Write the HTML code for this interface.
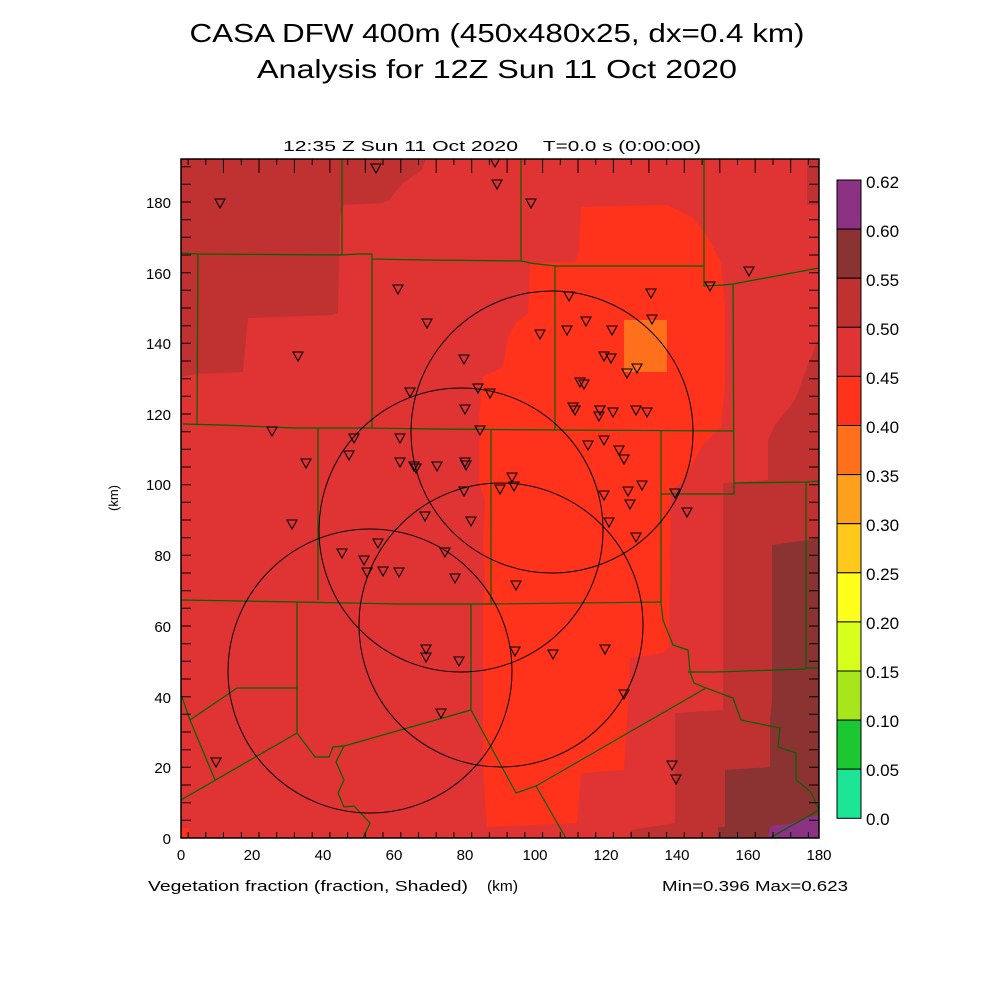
<!DOCTYPE html>
<html><head><meta charset="utf-8"><style>
html,body{margin:0;padding:0;background:#fff;}
svg{display:block;}
text{font-family:"Liberation Sans",sans-serif;fill:#000;}
</style></head><body>
<svg width="1000" height="1000" viewBox="0 0 1000 1000" xmlns="http://www.w3.org/2000/svg">
<rect width="1000" height="1000" fill="#fff"/>
<text x="497" y="42" font-size="26" text-anchor="middle" textLength="615" lengthAdjust="spacingAndGlyphs" fill="#111">CASA DFW 400m (450x480x25, dx=0.4 km)</text>
<text x="497" y="78" font-size="26" text-anchor="middle" textLength="480" lengthAdjust="spacingAndGlyphs" fill="#111">Analysis for 12Z Sun 11 Oct 2020</text>
<text x="283" y="151" font-size="15" textLength="235" lengthAdjust="spacingAndGlyphs">12:35 Z Sun 11 Oct 2020</text>
<text x="543" y="151" font-size="15" textLength="158" lengthAdjust="spacingAndGlyphs">T=0.0 s (0:00:00)</text>

<defs><clipPath id="pc"><rect x="181" y="159" width="638" height="679"/></clipPath></defs>
<g clip-path="url(#pc)">
<rect x="181" y="159" width="638" height="679" fill="#e03434"/>
<polygon fill="#c03232" points="181,159 426,159 422,170 403,183 389,200 383,203 344,205 340,217 338,313 332,315 248,318 243,372 196,374 181,377"/>
<polygon fill="#c03232" points="807,159 819,159 819,205 807,205"/>
<polygon fill="#ff321c" points="581,207 667,205 692,217 708,237 721,263 725,307 725,383 721,427 704,443 684,480 671,490 669,647 663,653 630,658 628,703 624,770 581,773 577,823 487,827 483,770 483,607 485,580 483,545 485,500 479,483 479,417 483,377 503,367 508,337 516,323 528,313 530,263 575,262 579,250"/>
<polygon fill="#ff321c" points="181,828 189,828 189,838 181,838"/>
<rect x="624" y="320" width="43" height="52" fill="#ff701c"/>
<polygon fill="#c03232" points="819,337 806,370 795,400 775,425 768,440 768,480 723,483 723,710 675,713 675,823 630,830 630,838 819,838"/>
<polygon fill="#8b3232" points="772,545 807,540 819,537 819,838 718,838 718,827 725,827 725,770 770,767 770,720 772,700"/>
<polygon fill="#8c3282" points="768,838 770,826 790,824 805,818 819,815 819,838"/>

<g fill="none" stroke="#006400" stroke-width="1.2">
<polyline points="342,159 342,255"/>
<polyline points="181,253 198,254 342,255 356,254 372,254 372,259 426,260 522,261 530,263 555,266 704,266"/>
<polyline points="521,159 521,261"/>
<polyline points="704,159 704,286 723,285 733,284 819,268"/>
<polyline points="733,284 734,494 661,494"/>
<polyline points="555,266 555,430"/>
<polyline points="183,424 221,425 246,426 295,428 368,428 434,429 555,430 734,431"/>
<polyline points="372,259 372,428"/>
<polyline points="198,254 197,424"/>
<polyline points="318,428 318,600"/>
<polyline points="491,430 491,604"/>
<polyline points="661,430 661,603"/>
<polyline points="734,483 807,482 819,481"/>
<polyline points="806,482 806,668 819,668"/>
<polyline points="688,672 716,672 806,669"/>
<polyline points="181,600 241,601 297,602 397,604 491,604 661,602"/>
<polyline points="297,602 297,733"/>
<polyline points="237,688 297,688"/>
<polyline points="182,697 190,720 215,780"/>
<polyline points="190,720 237,688"/>
<polyline points="181,800 297,733 315,757 329,757 333,747 344,746 471,710"/>
<polyline points="471,604 471,710 516,793 536,786 706,688"/>
<polyline points="536,786 567,840"/>
<polyline points="661,603 663,620 673,645 688,650 690,672 694,683 706,688 733,698 741,720 765,725 780,728 778,747 796,753 796,780 811,792 819,810"/>
<polyline points="770,838 819,810"/>
<polyline points="344,746 336,762 344,780 338,793 344,807 354,806 370,823 362,840"/>
</g>

<g fill="none" stroke="#000" stroke-width="1">
<circle cx="552" cy="432" r="141"/>
<circle cx="461" cy="530" r="142"/>
<circle cx="501" cy="625" r="142"/>
<circle cx="370" cy="671" r="142"/>
</g>

<g fill="none" stroke="#000" stroke-width="1.1">
<path d="M215,199h10l-5,9z M371,164h10l-5,9z M490,158h10l-5,9z M492,180h10l-5,9z M526,199h10l-5,9z M744,267h10l-5,9z M705,282h10l-5,9z M393,285h10l-5,9z M564,292h10l-5,9z M646,289h10l-5,9z M581,317h10l-5,9z M422,319h10l-5,9z M647,315h10l-5,9z M562,326h10l-5,9z M535,330h10l-5,9z M607,326h10l-5,9z M293,352h10l-5,9z M599,352h10l-5,9z M606,354h10l-5,9z M459,355h10l-5,9z M632,364h10l-5,9z M622,369h10l-5,9z M405,388h10l-5,9z M575,378h10l-5,9z M579,380h10l-5,9z M473,384h10l-5,9z M485,389h10l-5,9z M568,403h10l-5,9z M570,406h10l-5,9z M608,408h10l-5,9z M595,406h10l-5,9z M594,412h10l-5,9z M460,405h10l-5,9z M642,408h10l-5,9z M631,406h10l-5,9z M267,427h10l-5,9z M475,426h10l-5,9z M349,434h10l-5,9z M395,434h10l-5,9z M301,459h10l-5,9z M344,451h10l-5,9z M409,462h10l-5,9z M583,441h10l-5,9z M599,436h10l-5,9z M614,446h10l-5,9z M395,458h10l-5,9z M411,464h10l-5,9z M432,462h10l-5,9z M460,458h10l-5,9z M461,461h10l-5,9z M619,455h10l-5,9z M507,473h10l-5,9z M623,487h10l-5,9z M637,481h10l-5,9z M495,485h10l-5,9z M509,482h10l-5,9z M459,487h10l-5,9z M599,491h10l-5,9z M670,489h10l-5,9z M625,500h10l-5,9z M682,508h10l-5,9z M420,512h10l-5,9z M287,520h10l-5,9z M466,517h10l-5,9z M604,518h10l-5,9z M631,533h10l-5,9z M337,549h10l-5,9z M373,539h10l-5,9z M359,556h10l-5,9z M362,568h10l-5,9z M378,567h10l-5,9z M394,568h10l-5,9z M440,548h10l-5,9z M450,574h10l-5,9z M511,581h10l-5,9z M421,645h10l-5,9z M421,653h10l-5,9z M454,657h10l-5,9z M510,647h10l-5,9z M548,650h10l-5,9z M600,645h10l-5,9z M619,690h10l-5,9z M436,709h10l-5,9z M211,758h10l-5,9z M667,761h10l-5,9z M671,775h10l-5,9z"/>
</g>
</g>

<g stroke="#000" stroke-width="1">
<path d="M188.1,838v-6M205.8,838v-6M223.5,838v-6M241.3,838v-6M259,838v-6M276.7,838v-6M294.4,838v-6M312.2,838v-6M329.9,838v-6M347.6,838v-6M365.3,838v-6M383,838v-6M400.8,838v-6M418.5,838v-6M436.2,838v-6M453.9,838v-6M471.7,838v-6M489.4,838v-6M507.1,838v-6M524.8,838v-6M542.6,838v-6M560.3,838v-6M578,838v-6M595.7,838v-6M613.4,838v-6M631.2,838v-6M648.9,838v-6M666.6,838v-6M684.3,838v-6M702.1,838v-6M719.8,838v-6M737.5,838v-6M755.2,838v-6M773,838v-6M790.7,838v-6M808.4,838v-6"/>
<path d="M188.1,159v6M205.8,159v6M223.5,159v14M241.3,159v6M259,159v14M276.7,159v6M294.4,159v14M312.2,159v6M329.9,159v14M347.6,159v6M365.3,159v14M383,159v6M400.8,159v14M418.5,159v6M436.2,159v14M453.9,159v6M471.7,159v14M489.4,159v6M507.1,159v14M524.8,159v6M542.6,159v14M560.3,159v6M578,159v14M595.7,159v6M613.4,159v14M631.2,159v6M648.9,159v14M666.6,159v6M684.3,159v14M702.1,159v6M719.8,159v14M737.5,159v6M755.2,159v14M773,159v6M790.7,159v14M808.4,159v6"/>
<path d="M181,820.3h10M181,802.7h10M181,785h10M181,767.3h10M181,749.7h10M181,732h10M181,714.3h10M181,696.7h10M181,679h10M181,661.3h10M181,643.7h10M181,626h10M181,608.3h10M181,590.7h10M181,573h10M181,555.3h10M181,537.7h10M181,520h10M181,502.3h10M181,484.7h10M181,467h10M181,449.3h10M181,431.7h10M181,414h10M181,396.3h10M181,378.7h10M181,361h10M181,343.3h10M181,325.7h10M181,308h10M181,290.3h10M181,272.7h10M181,255h10M181,237.3h10M181,219.7h10M181,202h10M181,184.3h10M181,166.7h10"/>
<path d="M819,820.3h-10M819,802.7h-10M819,785h-10M819,767.3h-10M819,749.7h-10M819,732h-10M819,714.3h-10M819,696.7h-10M819,679h-10M819,661.3h-10M819,643.7h-10M819,626h-10M819,608.3h-10M819,590.7h-10M819,573h-10M819,555.3h-10M819,537.7h-10M819,520h-10M819,502.3h-10M819,484.7h-10M819,467h-10M819,449.3h-10M819,431.7h-10M819,414h-10M819,396.3h-10M819,378.7h-10M819,361h-10M819,343.3h-10M819,325.7h-10M819,308h-10M819,290.3h-10M819,272.7h-10M819,255h-10M819,237.3h-10M819,219.7h-10M819,202h-10M819,184.3h-10M819,166.7h-10"/>
</g>
<rect x="181" y="159" width="638" height="679" fill="none" stroke="#000" stroke-width="1.5"/>

<g font-size="15" text-anchor="middle">
<text x="181" y="860">0</text><text x="252" y="860">20</text><text x="323" y="860">40</text><text x="394" y="860">60</text><text x="465" y="860">80</text><text x="535" y="860">100</text><text x="606" y="860">120</text><text x="677" y="860">140</text><text x="748" y="860">160</text><text x="819" y="860">180</text>
</g>
<g font-size="15" text-anchor="end">
<text x="171" y="844">0</text><text x="171" y="773">20</text><text x="171" y="703">40</text><text x="171" y="632">60</text><text x="171" y="561">80</text><text x="171" y="490">100</text><text x="171" y="420">120</text><text x="171" y="349">140</text><text x="171" y="279">160</text><text x="171" y="208">180</text>
</g>
<text x="118" y="498" font-size="13" text-anchor="middle" transform="rotate(-90 118 498)">(km)</text>
<text x="148" y="891" font-size="15" textLength="320" lengthAdjust="spacingAndGlyphs">Vegetation fraction (fraction, Shaded)</text>
<text x="487" y="891" font-size="15" textLength="31" lengthAdjust="spacingAndGlyphs">(km)</text>
<text x="848" y="891" font-size="15" text-anchor="end" textLength="186" lengthAdjust="spacingAndGlyphs">Min=0.396 Max=0.623</text>

<g stroke="#000" stroke-width="1">
<rect x="837" y="180" width="24" height="49.1" fill="#8c3282"/>
<rect x="837" y="229.1" width="24" height="49.1" fill="#8b3232"/>
<rect x="837" y="278.2" width="24" height="49.1" fill="#c03232"/>
<rect x="837" y="327.3" width="24" height="49.1" fill="#e03434"/>
<rect x="837" y="376.4" width="24" height="49.1" fill="#ff321c"/>
<rect x="837" y="425.5" width="24" height="49.1" fill="#ff701c"/>
<rect x="837" y="474.6" width="24" height="49.1" fill="#ffa01c"/>
<rect x="837" y="523.7" width="24" height="49.1" fill="#ffc81c"/>
<rect x="837" y="572.8" width="24" height="49.1" fill="#ffff1c"/>
<rect x="837" y="621.9" width="24" height="49.1" fill="#d8ff1c"/>
<rect x="837" y="671" width="24" height="49.1" fill="#a8e61c"/>
<rect x="837" y="720.1" width="24" height="49.1" fill="#1cc832"/>
<rect x="837" y="769.2" width="24" height="49.1" fill="#1ce696"/>
</g>
<g font-size="17">
<text x="866" y="188">0.62</text><text x="866" y="237">0.60</text><text x="866" y="286">0.55</text><text x="866" y="335">0.50</text><text x="866" y="384">0.45</text><text x="866" y="433">0.40</text><text x="866" y="482">0.35</text><text x="866" y="531">0.30</text><text x="866" y="580">0.25</text><text x="866" y="629">0.20</text><text x="866" y="678">0.15</text><text x="866" y="727">0.10</text><text x="866" y="776">0.05</text><text x="866" y="825">0.0</text>
</g>
</svg>
</body></html>
